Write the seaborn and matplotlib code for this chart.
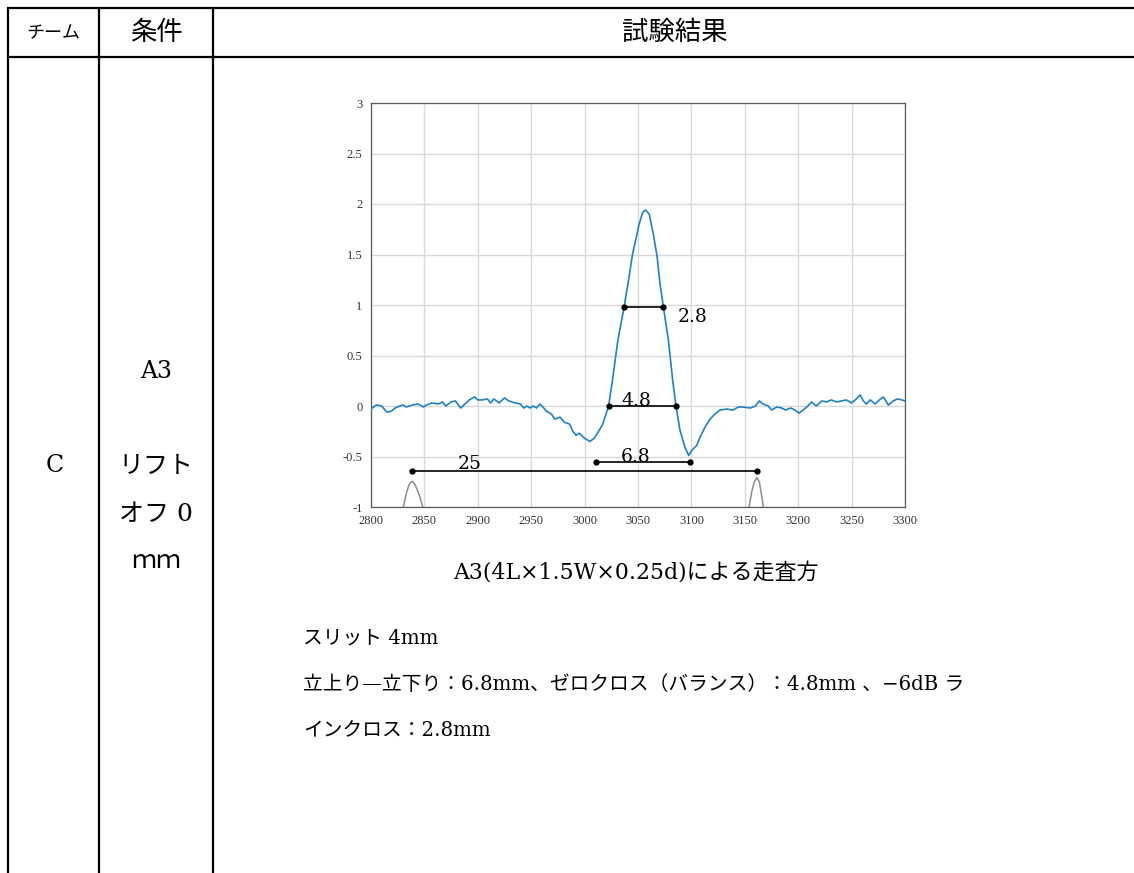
#%% ---- Load Packages ----
import numpy as np
import pandas as pd
import matplotlib
matplotlib.use("Agg")
import matplotlib.pyplot as plt
import seaborn as sns

# %% ---- Data ----
pos_mm = [2800, 2805, 2810, 2814.7, 2819.4, 2822.5, 2827, 2830, 2833, 2839, 2844, 2849, 2852,
          2857, 2863, 2867, 2870, 2875, 2879, 2884, 2889, 2892, 2897, 2900, 2904, 2909, 2912,
          2915, 2920, 2925, 2929, 2935, 2940, 2943, 2946, 2949, 2952, 2955, 2958, 2961, 2964,
          2969, 2972, 2977, 2981, 2986, 2989, 2992, 2995, 3000, 3005, 3009, 3012, 3017, 3020,
          3022.5, 3026, 3031, 3037, 3041.5, 3045, 3048, 3051, 3054.5, 3057, 3060.5, 3064.4, 3068,
          3070.6, 3073.8, 3078.5, 3082.5, 3085.6, 3089.3, 3094, 3097.5, 3100.3, 3105, 3108,
          3112.7, 3117.4, 3122, 3126.8, 3133, 3139, 3144, 3148, 3155, 3160, 3163.6, 3167, 3172,
          3175, 3180, 3184.5, 3188, 3193, 3197, 3200.7, 3204.7, 3209, 3212.6, 3217, 3222,
          3226.5, 3231, 3236, 3240.5, 3245, 3250, 3254.5, 3258, 3261, 3264, 3267.5, 3272, 3276,
          3279.7, 3284.5, 3289, 3293, 3297, 3300]
amp = [-0.03, 0.01, 0.00, -0.06, -0.05, -0.02, 0.00, 0.01, -0.01, 0.01, 0.02, -0.01, 0.01,
       0.03, 0.02, 0.04, 0.00, 0.04, 0.05, -0.02, 0.03, 0.06, 0.09, 0.06, 0.06, 0.07, 0.03,
       0.07, 0.03, 0.08, 0.05, 0.03, 0.02, -0.02, 0.00, -0.02, 0.00, -0.02, 0.02, -0.01, -0.05,
       -0.08, -0.13, -0.11, -0.16, -0.18, -0.25, -0.29, -0.27, -0.32, -0.35, -0.32, -0.27, -0.18, -0.08,
       0.00, 0.25, 0.64, 0.98, 1.27, 1.51, 1.65, 1.80, 1.92, 1.94, 1.90, 1.70, 1.47,
       1.21, 0.98, 0.65, 0.25, 0.00, -0.24, -0.41, -0.49, -0.44, -0.39, -0.31,
       -0.21, -0.13, -0.08, -0.04, -0.03, -0.04, -0.01, -0.01, -0.02, 0.00, 0.05, 0.02, 0.00,
       -0.04, -0.01, -0.02, -0.04, -0.02, -0.04, -0.07, -0.04, 0.00, 0.04, 0.00, 0.05,
       0.04, 0.06, 0.04, 0.05, 0.06, 0.03, 0.07, 0.11, 0.05, 0.02, 0.06, 0.02, 0.06,
       0.09, 0.01, 0.05, 0.07, 0.06, 0.05]

# slit marks (grey)
slit1_x = [2830.3, 2833.4, 2836, 2838.8, 2841.8, 2845.2, 2848.4]
slit1_y = [-1.0, -0.85, -0.77, -0.745, -0.79, -0.88, -1.0]
slit2_x = [3154, 3156.5, 3158.6, 3161.1, 3163.6, 3165.5, 3167.4]
slit2_y = [-1.0, -0.85, -0.76, -0.71, -0.75, -0.87, -1.0]

# width markers
width_labels = ["2.8", "4.8", "6.8", "25"]
width_x0 = [3037, 3022.5, 3011, 2838.7]
width_x1 = [3073.8, 3085.6, 3098.5, 3161.1]
width_y = [0.98, 0.0, -0.55, -0.645]
label_x = [3087.5, 3034, 3033.5, 2881.5]
label_y = [0.88, 0.05, -0.50, -0.57]

x_ticks = list(range(2800, 3301, 50))
y_ticks = [-1, -0.5, 0, 0.5, 1, 1.5, 2, 2.5, 3]
y_tick_labels = ["-1", "-0.5", "0", "0.5", "1", "1.5", "2", "2.5", "3"]

header = ["チーム", "条件", "試験結果"]
cond_lines = ["A3", "リフト", "オフ 0", "ｍｍ"]
caption = "A3(4L×1.5W×0.25d)による走査方"
notes = ["スリット 4mm",
         "立上り—立下り：6.8mm、ゼロクロス（バランス）：4.8mm 、−6dB ラ",
         "インクロス：2.8mm"]

# %% ---- Figure ----
sns.set_theme(style="white")
plt.rcParams['font.family'] = ['DejaVu Serif', 'Noto Sans CJK JP']
plt.rcParams['text.color'] = 'black'

fig = plt.figure(figsize=(11.34, 8.73), dpi=100)
fig.patch.set_facecolor("white")

# background axes in pixel coords for the table
bg = fig.add_axes([0, 0, 1, 1])
bg.set_xlim(0, 1134)
bg.set_ylim(873, 0)
bg.axis("off")

lw_tab = 1.6
for xv in [8, 99, 213]:
    bg.plot([xv, xv], [7, 873], color="black", lw=lw_tab, solid_capstyle="butt")
for yv in [8, 57]:
    bg.plot([7, 1134], [yv, yv], color="black", lw=lw_tab, solid_capstyle="butt")

bg.text(53, 33, header[0], ha="center", va="center", fontsize=13)
bg.text(156, 32, header[1], ha="center", va="center", fontsize=19)
bg.text(675, 32, header[2], ha="center", va="center", fontsize=19)
bg.text(55, 466, "C", ha="center", va="center", fontsize=17)
cond_sizes = [17, 18, 18, 18]
for txt, yv, fs in zip(cond_lines, [371, 467, 514, 561], cond_sizes):
    bg.text(156, yv, txt, ha="center", va="center", fontsize=fs)

bg.text(636, 573, caption, ha="center", va="center", fontsize=15.8)
for txt, yv in zip(notes, [638, 685, 731]):
    bg.text(303, yv, txt, ha="left", va="center", fontsize=14.2)

# chart
ax = fig.add_axes([371 / 1134, 1 - 507 / 873, 534 / 1134, 404 / 873])
ax.set_facecolor("white")

df = pd.DataFrame({"pos": pos_mm, "amp": amp})
sns.lineplot(data=df, x="pos", y="amp", ax=ax, color="#1f80c8", lw=1.2, zorder=3)
ax.plot(slit1_x, slit1_y, color="#8c8c8c", lw=1.1, zorder=2)
ax.plot(slit2_x, slit2_y, color="#8c8c8c", lw=1.1, zorder=2)

for lab, x0, x1, yv, lx, ly in zip(width_labels, width_x0, width_x1, width_y, label_x, label_y):
    ax.plot([x0, x1], [yv, yv], color="black", lw=1.2, marker="o", ms=3.5, zorder=4)
    ax.text(lx, ly, lab, ha="left", va="center", fontsize=13.5, color="black", zorder=5)

ax.set_xlim(2800, 3300)
ax.set_ylim(-1, 3)
ax.set_xticks(x_ticks)
ax.set_yticks(y_ticks)
ax.set_yticklabels(y_tick_labels)
ax.grid(True, color="#d9d9d9", lw=1.0)
ax.set_axisbelow(True)
for s in ax.spines.values():
    s.set_color("#595959")
    s.set_linewidth(0.9)
ax.tick_params(axis="both", length=0, labelsize=9, colors="#333333", pad=6)
for t in ax.get_xticklabels() + ax.get_yticklabels():
    t.set_fontfamily("Liberation Serif")
ax.set_xlabel("")
ax.set_ylabel("")

fig.savefig("out.png", dpi=100, facecolor="white")
